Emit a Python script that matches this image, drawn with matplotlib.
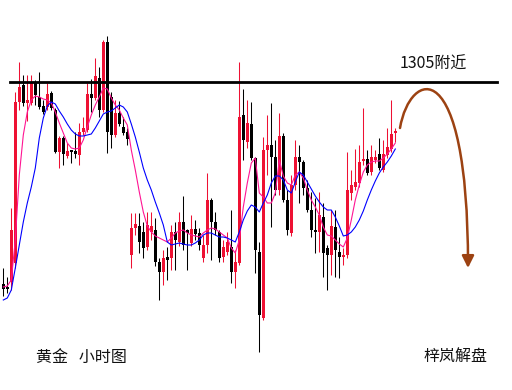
import numpy as np
import matplotlib
matplotlib.use('Agg')
from matplotlib import pyplot as plt
from matplotlib.path import Path
from matplotlib.patches import FancyArrowPatch

plt.rcParams['font.family'] = ['Noto Sans CJK SC', 'DejaVu Sans']

# hourly gold candles
opens = [1284.8, 1284.4, 1285.0, 1286.9, 1303.0, 1304.7, 1302.9, 1302.9, 1304.9, 1303.5,
         1302.6, 1302.5, 1303.9, 1302.2, 1298.0, 1299.4, 1297.6, 1298.1, 1298.1, 1297.7,
         1300.0, 1300.2, 1303.8, 1303.4, 1305.4, 1302.2, 1309.0, 1303.5, 1299.7, 1301.9,
         1300.5, 1300.0, 1287.7, 1290.4, 1290.6, 1290.0, 1288.5, 1290.0, 1290.2, 1287.0,
         1286.0, 1287.5, 1287.4, 1290.0, 1289.0, 1291.0, 1290.2, 1288.9, 1290.3, 1289.9,
         1287.4, 1288.7, 1293.2, 1291.0, 1290.0, 1287.5, 1288.0, 1288.5, 1286.0, 1286.9,
         1301.7, 1299.0, 1300.8, 1297.4, 1288.0, 1281.4, 1298.2, 1298.7, 1297.5, 1294.2,
         1299.6, 1293.2, 1289.9, 1294.7, 1297.5, 1297.0, 1294.4, 1292.2, 1290.2, 1290.0,
         1291.5, 1288.4, 1287.7, 1290.5, 1288.0, 1287.5, 1287.7, 1293.9, 1294.5, 1294.9,
         1297.1, 1297.3, 1296.0, 1297.2, 1297.8, 1296.2, 1297.7, 1298.3, 1299.9]
highs = [1286.4, 1285.5, 1292.4, 1304.0, 1307.0, 1305.7, 1305.7, 1305.7, 1305.2, 1306.0,
         1303.2, 1304.9, 1304.1, 1302.4, 1299.6, 1299.6, 1298.9, 1298.2, 1300.0, 1300.9,
         1301.5, 1304.9, 1305.3, 1307.4, 1306.5, 1309.2, 1309.6, 1304.0, 1303.2, 1303.1,
         1301.5, 1300.4, 1291.9, 1291.9, 1291.9, 1291.0, 1292.0, 1292.0, 1291.4, 1287.4,
         1288.2, 1288.5, 1290.7, 1291.0, 1292.0, 1293.6, 1290.3, 1291.7, 1291.2, 1290.4,
         1289.7, 1295.9, 1293.4, 1292.0, 1290.2, 1289.2, 1290.0, 1292.2, 1288.2, 1307.0,
         1304.3, 1303.2, 1303.0, 1297.5, 1289.0, 1299.5, 1301.7, 1302.9, 1299.2, 1301.9,
         1299.9, 1294.2, 1295.7, 1299.2, 1298.7, 1297.2, 1295.2, 1294.0, 1293.4, 1294.0,
         1292.9, 1288.7, 1292.2, 1292.2, 1289.5, 1288.4, 1298.0, 1296.2, 1298.3, 1298.7,
         1302.4, 1298.2, 1298.7, 1298.2, 1299.4, 1299.2, 1300.4, 1303.2, 1300.4]
lows = [1283.6, 1283.9, 1284.2, 1286.4, 1302.2, 1302.6, 1301.1, 1302.7, 1302.7, 1302.3,
        1301.8, 1302.2, 1302.2, 1297.9, 1296.4, 1296.7, 1297.4, 1296.9, 1297.4, 1296.7,
        1299.7, 1300.0, 1302.0, 1303.2, 1301.5, 1302.0, 1297.9, 1298.4, 1299.5, 1300.6,
        1299.7, 1298.7, 1286.4, 1289.7, 1287.9, 1287.4, 1288.2, 1289.2, 1286.6, 1283.2,
        1284.7, 1285.2, 1286.2, 1286.2, 1288.6, 1288.2, 1286.2, 1288.6, 1289.2, 1288.2,
        1287.0, 1287.9, 1287.2, 1289.7, 1287.0, 1287.0, 1287.7, 1284.9, 1284.4, 1286.7,
        1297.2, 1298.4, 1297.2, 1285.9, 1278.0, 1281.2, 1295.7, 1290.5, 1293.7, 1293.7,
        1293.0, 1289.7, 1289.6, 1294.2, 1292.9, 1293.7, 1292.0, 1289.5, 1287.9, 1288.0,
        1285.5, 1284.2, 1285.7, 1285.5, 1285.4, 1286.7, 1287.4, 1293.2, 1294.2, 1294.5,
        1296.7, 1295.7, 1295.7, 1296.9, 1296.2, 1296.0, 1297.4, 1298.0, 1299.0]
closes = [1284.3, 1284.3, 1290.2, 1303.0, 1304.5, 1302.9, 1303.2, 1304.9, 1303.7, 1302.5,
          1302.0, 1303.8, 1302.4, 1298.0, 1299.4, 1297.8, 1298.1, 1298.0, 1297.8, 1300.0,
          1300.4, 1303.8, 1303.4, 1305.6, 1302.2, 1309.0, 1300.0, 1299.7, 1301.9, 1300.8,
          1299.9, 1299.3, 1290.4, 1290.8, 1289.0, 1288.4, 1290.7, 1290.6, 1287.0, 1286.0,
          1287.4, 1287.2, 1290.0, 1289.2, 1291.0, 1288.7, 1289.9, 1290.3, 1289.8, 1288.7,
          1288.7, 1293.2, 1291.0, 1290.2, 1287.4, 1288.5, 1289.0, 1286.0, 1287.0, 1301.5,
          1299.2, 1300.9, 1297.4, 1288.2, 1281.7, 1298.2, 1298.7, 1297.5, 1294.2, 1299.6,
          1293.2, 1290.2, 1294.7, 1297.5, 1297.0, 1294.4, 1292.2, 1290.2, 1290.0, 1291.7,
          1287.9, 1287.7, 1290.6, 1288.2, 1287.5, 1287.7, 1294.2, 1294.7, 1295.0, 1297.0,
          1297.3, 1295.9, 1297.5, 1297.5, 1296.4, 1297.8, 1298.5, 1299.8, 1300.1]

# moving averages as drawn (pink = fast, blue = slow)
ma_fast = [1284.5, 1284.6, 1285.2, 1289.2, 1295.7, 1299.7, 1302.0, 1303.2, 1303.6, 1303.5,
           1303.3, 1303.2, 1302.9, 1302.0, 1300.9, 1299.9, 1298.9, 1298.4, 1298.3, 1298.4,
           1299.2, 1300.5, 1301.7, 1302.7, 1303.5, 1304.4, 1304.3, 1303.4, 1302.7, 1302.2,
           1301.4, 1300.7, 1298.2, 1296.2, 1294.0, 1292.0, 1290.6, 1290.0, 1289.6, 1289.4,
           1289.2, 1289.0, 1289.4, 1289.9, 1290.1, 1290.2, 1289.9, 1289.7, 1289.6, 1289.5,
           1289.9, 1290.2, 1290.4, 1290.3, 1290.0, 1289.7, 1289.4, 1288.4, 1287.9, 1289.2,
           1292.5, 1294.9, 1296.9, 1297.4, 1293.9, 1293.5, 1292.9, 1292.9, 1293.9, 1297.2,
           1295.6, 1294.9, 1294.7, 1295.7, 1296.0, 1295.4, 1294.2, 1293.2, 1292.5, 1291.7,
           1290.5, 1289.7, 1289.6, 1289.2, 1288.8, 1288.5, 1289.4, 1291.2, 1293.2, 1294.7,
           1296.0, 1296.7, 1297.0, 1297.1, 1297.1, 1297.4, 1297.8, 1298.3, 1298.9]
ma_slow = [1283.2, 1283.4, 1284.2, 1286.4, 1288.7, 1291.0, 1292.9, 1294.5, 1296.4, 1299.4,
           1301.4, 1302.6, 1303.0, 1302.8, 1302.1, 1301.5, 1300.8, 1300.2, 1299.8, 1299.6,
           1299.6, 1299.7, 1299.8, 1300.4, 1301.1, 1301.8, 1302.0, 1302.1, 1302.4, 1302.7,
           1302.5, 1302.0, 1300.8, 1299.5, 1298.0, 1296.4, 1295.2, 1294.2, 1293.0, 1291.9,
           1290.7, 1289.0, 1288.7, 1288.8, 1288.9, 1288.8, 1288.7, 1288.7, 1288.9, 1289.2,
           1289.7, 1289.9, 1289.9, 1289.7, 1289.5, 1289.5, 1289.4, 1289.2, 1289.0, 1290.0,
           1291.2, 1292.1, 1292.7, 1292.5, 1292.0, 1292.9, 1293.7, 1294.9, 1295.6, 1295.6,
           1295.2, 1294.2, 1293.9, 1295.0, 1296.0, 1295.7, 1295.0, 1294.3, 1293.6, 1293.0,
           1292.5, 1292.2, 1292.2, 1291.5, 1290.6, 1289.6, 1289.7, 1290.0, 1290.5, 1291.2,
           1292.1, 1293.2, 1294.2, 1295.1, 1295.9, 1296.5, 1297.0, 1297.6, 1298.3]

level = 1305
level_label = '1305附近'
title_left = '黄金   小时图'
title_right = '梓岚解盘'

red = '#ee1133'

o = np.array(opens)
h = np.array(highs)
l = np.array(lows)
c = np.array(closes)
x = np.arange(len(o))

fig = plt.figure(figsize=(5.12, 3.9), dpi=100)
ax = fig.add_axes([0, 0, 1, 1])
ax.set_xlim(-0.825, 127.175)
ax.set_ylim(1274.2, 1313.2)
ax.axis('off')

cols = np.where(c >= o, red, 'black')
ax.vlines(x, l, h, colors=cols, lw=0.75, zorder=1)
body = np.maximum(np.abs(c - o), 0.2)
ax.bar(x, body, bottom=np.minimum(o, c), width=0.65, color=cols, linewidth=0, zorder=2)

ax.plot(x, ma_fast, color='#ff1493', lw=0.8, zorder=3)
ax.plot(x, ma_slow, color='#0000ff', lw=0.8, zorder=3)

ax.axhline(level, xmin=10/512, xmax=497/512, color='black', lw=2, zorder=4)

# overlay in pixel coords for the hand-drawn arrow
ov = fig.add_axes([0, 0, 1, 1])
ov.set_xlim(0, 512)
ov.set_ylim(390, 0)
ov.axis('off')
ov.patch.set_alpha(0)

arc = Path([(400, 128), (410, 70), (468, 50), (468, 268)],
           [Path.MOVETO, Path.CURVE4, Path.CURVE4, Path.CURVE4])
arr = FancyArrowPatch(path=arc, arrowstyle='-|>,head_length=0.4,head_width=0.2',
                      mutation_scale=18, color='#9c4212', lw=1.8)
ov.add_patch(arr)

fig.text(400/512, 1 - 64/390, level_label, fontsize=11.5, va='center', ha='left', color='#111111')
fig.text(36/512, 1 - 357/390, title_left, fontsize=11.5, va='center', ha='left', color='#111111')
fig.text(423/512, 1 - 357/390, title_right, fontsize=11.5, va='center', ha='left', color='#111111')

fig.savefig('out.png', dpi=100, facecolor='white')
